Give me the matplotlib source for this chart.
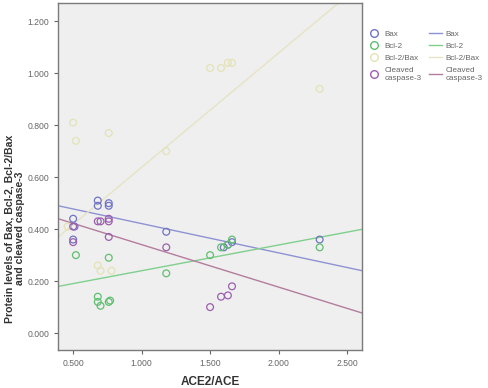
import numpy as np
import matplotlib
matplotlib.use("Agg")
import matplotlib.pyplot as plt
from matplotlib.lines import Line2D

plt.rcParams["font.family"] = ["Liberation Sans", "DejaVu Sans"]

# series (x = ACE2/ACE)
series = ["Bax", "Bcl-2", "Bcl-2/Bax", "Cleaved\ncaspase-3"]

bax_x = [0.50, 0.51, 0.50, 0.68, 0.68, 0.76, 0.76, 1.18, 1.60, 1.63, 1.66, 2.30]
bax_y = [0.44, 0.41, 0.36, 0.51, 0.49, 0.50, 0.49, 0.39, 0.33, 0.34, 0.35, 0.36]

bcl2_x = [0.52, 0.68, 0.68, 0.70, 0.76, 0.76, 0.77, 1.18, 1.50, 1.58, 1.63, 1.66, 2.30]
bcl2_y = [0.30, 0.14, 0.12, 0.105, 0.29, 0.12, 0.125, 0.23, 0.30, 0.33, 0.34, 0.36, 0.33]

ratio_x = [0.46, 0.50, 0.52, 0.68, 0.70, 0.76, 0.78, 1.18, 1.50, 1.58, 1.63, 1.66, 2.30]
ratio_y = [0.41, 0.81, 0.74, 0.26, 0.24, 0.77, 0.24, 0.70, 1.02, 1.02, 1.04, 1.04, 0.94]

casp_x = [0.50, 0.50, 0.68, 0.70, 0.76, 0.76, 0.76, 1.18, 1.50, 1.58, 1.63, 1.66]
casp_y = [0.41, 0.35, 0.43, 0.43, 0.44, 0.43, 0.37, 0.33, 0.10, 0.14, 0.145, 0.18]

# fit lines (intercept, slope)
fit_intercept = [0.534, 0.141, 0.198, 0.504]
fit_slope = [-0.1126, 0.099, 0.44, -0.1635]

xs = [bax_x, bcl2_x, ratio_x, casp_x]
ys = [bax_y, bcl2_y, ratio_y, casp_y]
marker_cols = ["#6f74c4", "#5fbf70", "#e4e2b6", "#9b5fae"]
line_cols = ["#8e92d2", "#7fd08c", "#e6e4c4", "#b47c9e"]

fig = plt.figure(figsize=(4.88, 3.88), dpi=100)
ax = fig.add_axes([0.119, 0.098, 0.623, 0.894])
ax.set_facecolor("#efefef")

xlim = (0.39, 2.61)
for i in range(4):
    ax.scatter(xs[i], ys[i], s=24, facecolors="none", edgecolors=marker_cols[i],
               linewidths=0.9, zorder=3)
    lx = np.array(xlim)
    ax.plot(lx, fit_intercept[i] + fit_slope[i] * lx, color=line_cols[i], lw=1.0, zorder=2)

ax.set_xlim(*xlim)
ax.set_ylim(-0.065, 1.27)
ax.set_xticks([0.5, 1.0, 1.5, 2.0, 2.5])
ax.set_yticks([0.0, 0.2, 0.4, 0.6, 0.8, 1.0, 1.2])
ax.set_xticklabels(["%.3f" % v for v in ax.get_xticks()])
ax.set_yticklabels(["%.3f" % v for v in ax.get_yticks()])
ax.tick_params(labelsize=6.2, colors="#666666", length=3, width=0.8)
for s in ax.spines.values():
    s.set_color("#7a7a7a")
    s.set_linewidth(1.0)

ax.set_xlabel("ACE2/ACE", fontsize=8.5, fontweight="bold", color="#333333")
ax.xaxis.set_label_coords(0.5, -0.075)
ax.set_ylabel("Protein levels of Bax, Bcl-2, Bcl-2/Bax\nand cleaved caspase-3",
              fontsize=7.6, fontweight="bold", color="#333333", linespacing=1.15)
ax.yaxis.set_label_coords(-0.108, 0.35)

handles = []
for i in range(4):
    handles.append(Line2D([0], [0], marker="o", ls="none", markerfacecolor="none",
                          markeredgecolor=marker_cols[i], markersize=5.5, label=series[i]))
for i in range(4):
    handles.append(Line2D([0], [0], color=line_cols[i], lw=1.0, label=series[i]))
fig.legend(handles=handles, ncol=2, loc="upper left", bbox_to_anchor=(0.738, 0.94),
           frameon=False, fontsize=5.8, handlelength=1.7, handletextpad=0.4,
           columnspacing=0.9, labelspacing=0.55, labelcolor="#666666")

fig.savefig("out.png", dpi=100)
